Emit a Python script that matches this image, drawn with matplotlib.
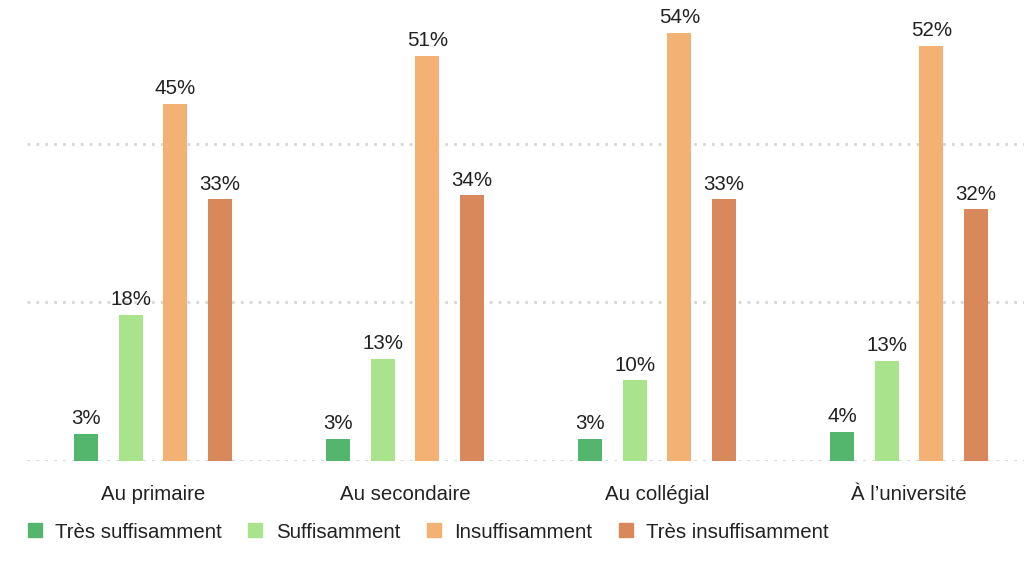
import matplotlib.pyplot as plt
from matplotlib.lines import Line2D
import numpy as np

plt.rcParams['font.family'] = ['Liberation Sans', 'DejaVu Sans']

categories = ["Au primaire", "Au secondaire", "Au collégial", "À l\u2019université"]
series = ["Très suffisamment", "Suffisamment", "Insuffisamment", "Très insuffisamment"]
colors = ["#54b66c", "#a9e38b", "#f4b174", "#d9885c"]

tres_suff = [3.4, 2.8, 2.8, 3.7]
suff = [18.4, 12.9, 10.2, 12.6]
insuff = [45.0, 51.1, 54.0, 52.3]
tres_insuff = [33.0, 33.5, 33.0, 31.7]
labels = [
    ["3%", "3%", "3%", "4%"],
    ["18%", "13%", "10%", "13%"],
    ["45%", "51%", "54%", "52%"],
    ["33%", "34%", "33%", "32%"],
]
values = [tres_suff, suff, insuff, tres_insuff]

W, H = 1024, 562
fig = plt.figure(figsize=(W / 100, H / 100), dpi=100)
# axes spans one group per 252 px, starting at x=27; right edge runs off the figure
left, right = 27, 27 + 252 * 4
base, top = 461, 0
ax = fig.add_axes([left / W, 1 - base / H, (right - left) / W, (base - top) / H])

x = np.arange(len(categories))
pitch = 0.177
width = 0.095
for i, (vals, col, labs) in enumerate(zip(values, colors, labels)):
    bars = ax.bar(x + (i - 1.5) * pitch, vals, width=width, color=col, zorder=3)
    ax.bar_label(bars, labels=labs, padding=4, fontsize=14.8, color="#222222")

ax.set_xlim(-0.5, len(categories) - 0.5)
ax.set_ylim(0, 58.1)
ax.set_yticks([0, 20, 40])
ax.yaxis.grid(True, color="#d6d6d6", linestyle=(0, (1, 2.2)), linewidth=2)
ax.tick_params(axis="y", left=False, labelleft=False)
ax.set_xticks(x)
ax.set_xticklabels(categories, fontsize=14.7, color="#222222")
ax.tick_params(axis="x", length=0, pad=17)
for s in ax.spines.values():
    s.set_visible(False)

handles = [Line2D([], [], marker="s", linestyle="none", markersize=10.5,
                  markerfacecolor=c, markeredgecolor=c) for c in colors]
fig.legend(handles, series, loc="center left", ncol=4, frameon=False,
           bbox_to_anchor=(7 / W, 1 - 532 / H), fontsize=14.7,
           handlelength=0.9, handletextpad=0.55, columnspacing=1.2,
           labelcolor="#222222")

fig.savefig("out.png", dpi=100)
